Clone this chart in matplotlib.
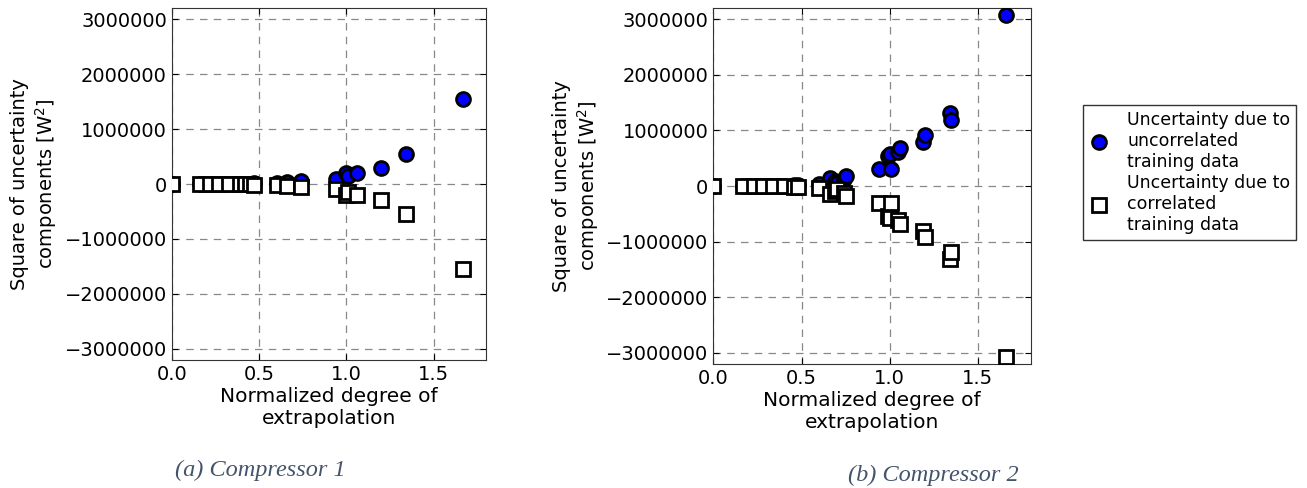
import matplotlib
matplotlib.use("Agg")
import matplotlib.pyplot as plt
from matplotlib.ticker import FuncFormatter

# Compressor 1 - normalized degree of extrapolation and squared uncertainties
x_c1 = [0.0, 0.16, 0.22, 0.27, 0.33, 0.39, 0.42, 0.45, 0.47, 0.60, 0.66,
        0.74, 0.94, 1.00, 1.01, 1.06, 1.20, 1.34, 1.67]
unc_c1 = [0, 1000, 1500, 2000, 3000, 5000, 6000, 8000, 10000, 20000, 40000,
          50000, 90000, 200000, 145000, 206000, 285000, 545000, 1545000]
cor_c1 = [0, -1000, -1500, -2000, -3000, -5000, -6000, -8000, -10000, -20000, -40000,
          -50000, -90000, -200000, -145000, -206000, -285000, -545000, -1545000]

# Compressor 2
x_c2 = [0.0, 0.17, 0.23, 0.28, 0.34, 0.40, 0.46, 0.48, 0.60, 0.66, 0.69,
        0.70, 0.74, 0.75, 0.94, 0.99, 1.00, 1.01, 1.05, 1.06, 1.19, 1.20,
        1.34, 1.35, 1.66]
unc_c2 = [0, 1000, 2000, 3000, 5000, 8000, 15000, 20000, 30000, 150000, 90000,
          60000, 120000, 180000, 310000, 540000, 580000, 310000, 610000, 690000,
          800000, 920000, 1320000, 1190000, 3080000]
cor_c2 = [0, -1000, -2000, -3000, -5000, -8000, -15000, -20000, -30000, -150000, -90000,
          -60000, -120000, -180000, -310000, -540000, -580000, -310000, -610000, -690000,
          -800000, -920000, -1320000, -1190000, -3080000]

yticks = [-3000000, -2000000, -1000000, 0, 1000000, 2000000, 3000000]
xticks = [0.0, 0.5, 1.0, 1.5]
captions = ["(a) Compressor 1", "(b) Compressor 2"]

plt.rcParams['font.family'] = ['DejaVu Sans']
plt.rcParams['axes.unicode_minus'] = True

fig = plt.figure(figsize=(13.07, 4.88), dpi=100)
ax1 = fig.add_axes([0.1314, 0.2623, 0.2405, 0.7213])
ax2 = fig.add_axes([0.5458, 0.2541, 0.2428, 0.7295])


def fmt(v, pos):
    return f"{int(round(v))}".replace("-", "\u2212")


for ax, xs, unc, cor in [(ax1, x_c1, unc_c1, cor_c1), (ax2, x_c2, unc_c2, cor_c2)]:
    h1, = ax.plot(xs, unc, 'o', color='#0000ff', markeredgecolor='black',
                  markeredgewidth=2, markersize=10, linestyle='none', zorder=3)
    h2, = ax.plot(xs, cor, 's', color='white', markeredgecolor='black',
                  markeredgewidth=2, markersize=9.5, linestyle='none', zorder=4)
    ax.set_xlim(0, 1.8)
    ax.set_ylim(-3200000, 3200000)
    ax.set_xticks(xticks)
    ax.set_yticks(yticks)
    ax.yaxis.set_major_formatter(FuncFormatter(fmt))
    ax.grid(True, linestyle=(0, (6, 5)), color='#888888', linewidth=0.9)
    ax.tick_params(direction='in', top=True, right=True, labelsize=14, length=4)
    ax.set_xlabel("Normalized degree of\nextrapolation", fontsize=14.5, labelpad=2)
    ax.set_ylabel("Square of uncertainty\ncomponents [W$^2$]", fontsize=14)
    for s in ax.spines.values():
        s.set_color('#333333')

fig.text(260 / 1307, 1 - 470 / 488, captions[0], fontsize=17.5, style='italic',
         family='Liberation Serif', color='#44546a', ha='center', va='center')
fig.text(933 / 1307, 1 - 475 / 488, captions[1], fontsize=17.5, style='italic',
         family='Liberation Serif', color='#44546a', ha='center', va='center')

leg = fig.legend([h1, h2],
                 ["Uncertainty due to\nuncorrelated\ntraining data",
                  "Uncertainty due to\ncorrelated\ntraining data"],
                 loc='upper left', bbox_to_anchor=(1083 / 1307, 1 - 105 / 488),
                 borderaxespad=0, fontsize=12.5, fancybox=False,
                 edgecolor='#333333', framealpha=1, handlelength=1.2,
                 handletextpad=1.0, labelspacing=0.2, borderpad=0.35,
                 numpoints=1)
leg.get_frame().set_linewidth(1.0)

fig.savefig("out.png", dpi=100)
